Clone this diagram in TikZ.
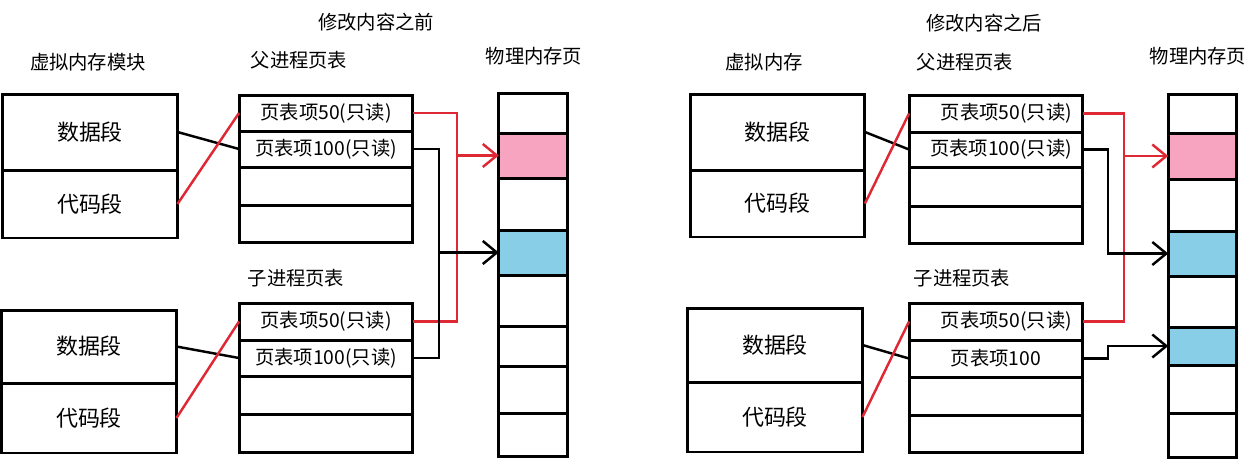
\documentclass[tikz,border=0pt]{standalone}
\usepackage{fontspec}
\setmainfont{Noto Sans CJK SC}
\usetikzlibrary{arrows.meta,calc}

\definecolor{pagepink}{RGB}{247,164,192}
\definecolor{pageblue}{RGB}{135,206,230}
\definecolor{cowred}{RGB}{222,40,52}

\begin{document}
\begin{tikzpicture}[x=0.02cm,y=-0.02cm,
    cell/.style={draw, line width=1.7pt, inner sep=0pt, outer sep=0pt},
    segcell/.style={cell, minimum width=3.5cm, font=\fontsize{12.5}{14}\selectfont},
    entry/.style={cell, minimum width=3.48cm, font=\fontsize{11}{13}\selectfont},
    pagecell/.style={cell, minimum width=1.37cm},
    heading/.style={font=\fontsize{11}{13}\selectfont, inner sep=0pt},
    link/.style={line width=1.4pt},
    redlink/.style={link, draw=cowred},
    tip/.style={-{Straight Barb[length=2.8mm,width=4.6mm]}}]
  \useasboundingbox (0,0) rectangle (1255,468);

  % Before the change
  \node[heading] (titleL) at (376,22) {修改内容之前};
  \node[heading] (vmL) at (88,62) {虚拟内存模块};
  \node[heading] (ptL) at (299,60) {父进程页表};
  \node[heading] (pmL) at (534,56) {物理内存页};
  \node[heading] (ctL) at (296,278) {子进程页表};

  \node[segcell, minimum height=1.52cm] (lvd) at (90,132) {数据段};
  \node[segcell, minimum height=1.36cm] (lvc) at (90,204) {代码段};
  \node[segcell, minimum height=1.46cm] (lwd) at (89,346.5) {数据段};
  \node[segcell, minimum height=1.40cm] (lwc) at (89,418) {代码段};

  \foreach \t/\b/\txt [count=\i] in {95/131/页表项50(只读),131/167/页表项100(只读),167/205/,205/242/}
    \node[entry, minimum height={(\b-\t)*0.02cm}] (lp\i) at (326,{(\t+\b)/2}) {\txt};
  \foreach \t/\b/\txt [count=\i] in {303/340/页表项50(只读),340/376/页表项100(只读),376/414/,414/452/}
    \node[entry, minimum height={(\b-\t)*0.02cm}] (lc\i) at (326,{(\t+\b)/2}) {\txt};

  \foreach \t/\b/\c [count=\i] in {93/133/white,133/178/pagepink,178/230/white,230/275/pageblue,275/326/white,326/366/white,366/413/white,413/456/white}
    \node[pagecell, fill=\c, minimum height={(\b-\t)*0.02cm}] (lm\i) at (533,{(\t+\b)/2}) {};

  \draw[link] (lvd.east) -- (lp2.west);
  \draw[redlink] (lvc.east) -- (lp1.west);
  \draw[link] (lwd.east) -- (lc2.west);
  \draw[redlink] (lwc.east) -- (lc1.west);

  \draw[redlink] (lp1.east) -- ++(44,0) coordinate (lrb) |- (lc1.east);
  \draw[redlink, tip] (lrb |- lm2.west) -- (lm2.west);
  \draw[link] (lp2.east) -- ++(26,0) coordinate (lbb) |- (lc2.east);
  \draw[link, tip] (lbb |- lm4.west) -- (lm4.west);

  % After the change
  \node[heading] (titleR) at (984,23) {修改内容之后};
  \node[heading] (vmR) at (764,62) {虚拟内存};
  \node[heading] (ptR) at (965,62) {父进程页表};
  \node[heading] (pmR) at (1198,56) {物理内存页};
  \node[heading] (ctR) at (962,278) {子进程页表};

  \node[segcell, minimum height=1.52cm] (rvd) at (777.5,132) {数据段};
  \node[segcell, minimum height=1.34cm] (rvc) at (777.5,203.5) {代码段};
  \node[segcell, minimum height=1.48cm] (rwd) at (775,345) {数据段};
  \node[segcell, minimum height=1.40cm] (rwc) at (775,417) {代码段};

  \foreach \t/\b/\txt [count=\i] in {95/132/页表项50(只读),132/167/页表项100(只读),167/206/,206/243/}
    \node[entry, text width=3.04cm, align=right, minimum height={(\b-\t)*0.02cm}] (rp\i) at (996,{(\t+\b)/2}) {\txt};
  \foreach \t/\b/\txt/\al [count=\i] in {303/340/页表项50(只读)/right,340/377/页表项100/center,377/415//right,415/452//right}
    \node[entry, text width=3.04cm, align=\al, minimum height={(\b-\t)*0.02cm}] (rc\i) at (996,{(\t+\b)/2}) {\txt};

  \foreach \t/\b/\c [count=\i] in {94/133/white,133/179/pagepink,179/231/white,231/276/pageblue,276/327/white,327/365/pageblue,365/413/white,413/457/white}
    \node[pagecell, fill=\c, minimum height={(\b-\t)*0.02cm}] (rm\i) at (1202.5,{(\t+\b)/2}) {};

  \draw[link] (rvd.east) -- (rp2.west);
  \draw[redlink] (rvc.east) -- (rp1.west);
  \draw[link] (rwd.east) -- (rc2.west);
  \draw[redlink] (rwc.east) -- (rc1.west);

  \draw[redlink] (rp1.east) -- ++(41,0) coordinate (rrb) |- (rc1.east);
  \draw[redlink, tip] (rrb |- rm2.west) -- (rm2.west);
  \draw[link, tip] (rp2.east) -- ++(25,0) |- (rm4.west);
  \draw[link, tip] (rc2.east) -- ++(25,0) |- (rm6.west);
\end{tikzpicture}
\end{document}
